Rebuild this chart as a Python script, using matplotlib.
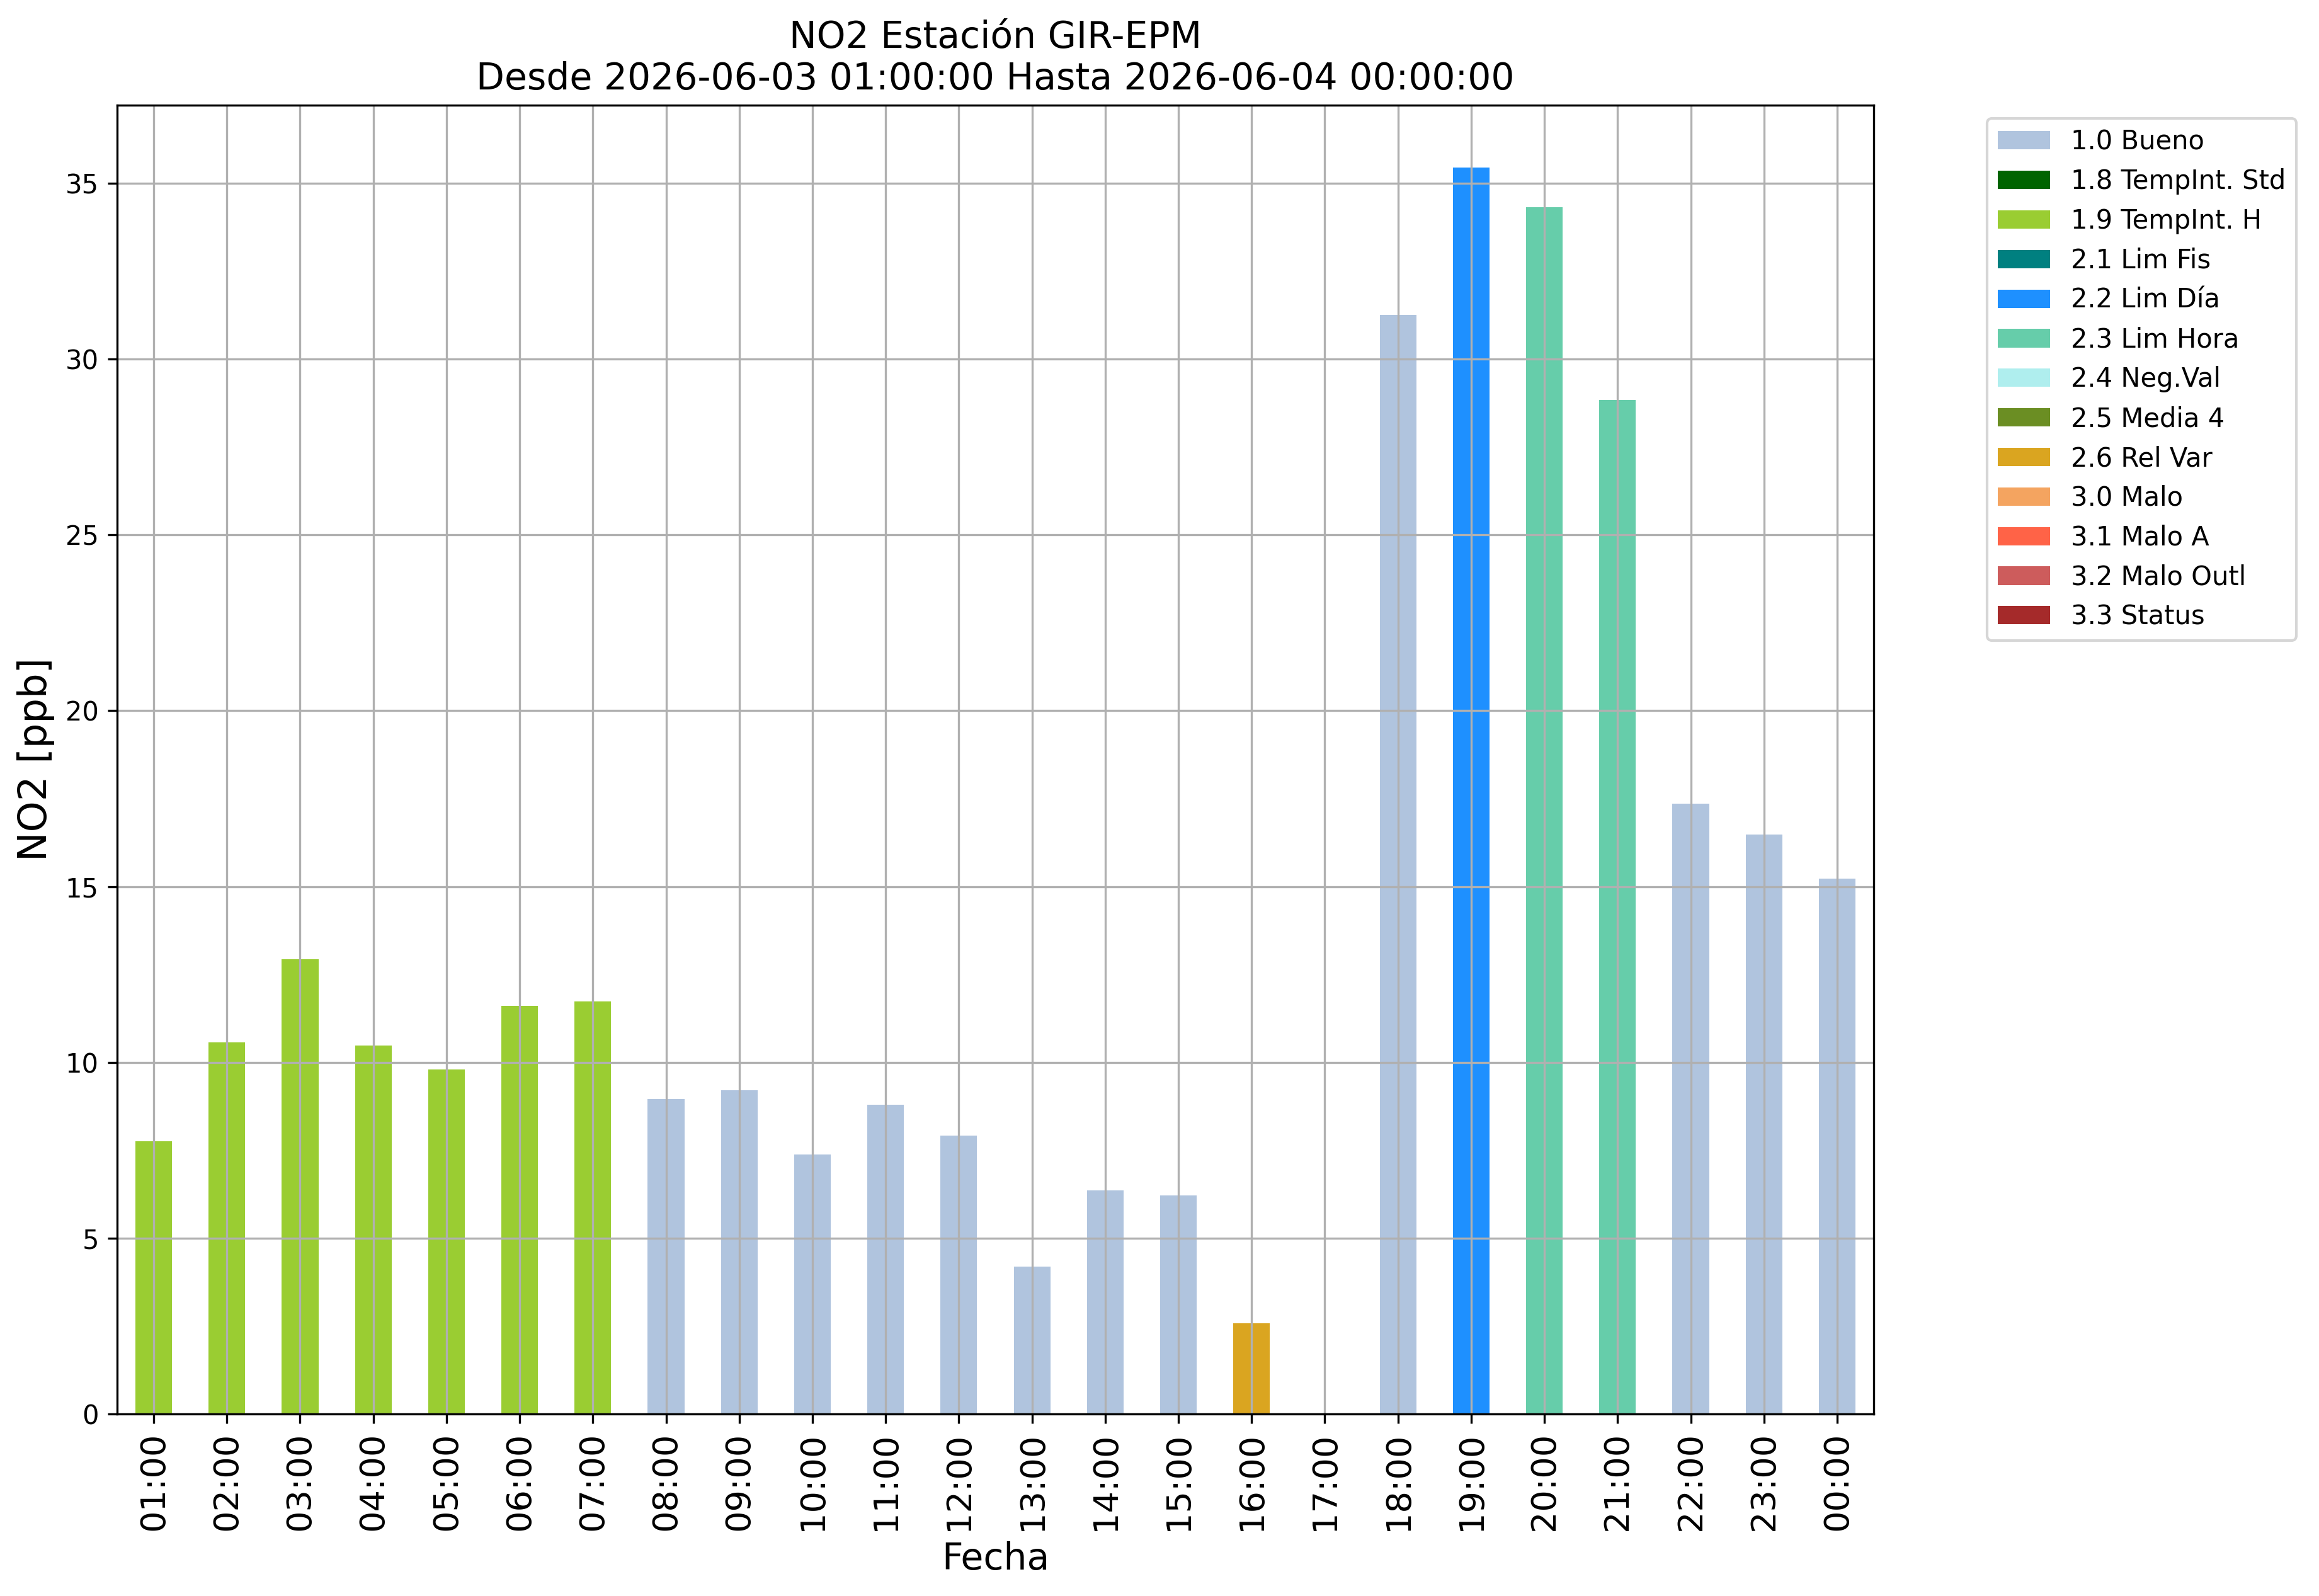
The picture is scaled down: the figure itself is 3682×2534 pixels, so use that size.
import numpy as np
import matplotlib
matplotlib.use('Agg')
import matplotlib.pyplot as plt
from matplotlib.patches import Patch

# Hourly NO2 values (ppb) and their quality flag
hours = ["01:00", "02:00", "03:00", "04:00", "05:00", "06:00", "07:00", "08:00",
         "09:00", "10:00", "11:00", "12:00", "13:00", "14:00", "15:00", "16:00",
         "17:00", "18:00", "19:00", "20:00", "21:00", "22:00", "23:00", "00:00"]
no2 = [7.75, 10.57, 12.94, 10.47, 9.79, 11.60, 11.73, 8.95,
       9.20, 7.38, 8.79, 7.91, 4.19, 6.35, 6.21, 2.58,
       np.nan, 31.25, 35.45, 34.32, 28.84, 17.36, 16.47, 15.22]
flags = ["1.9", "1.9", "1.9", "1.9", "1.9", "1.9", "1.9", "1.0",
         "1.0", "1.0", "1.0", "1.0", "1.0", "1.0", "1.0", "2.6",
         None, "1.0", "2.2", "2.3", "2.3", "1.0", "1.0", "1.0"]

# Flag legend (code, label, colour)
flag_codes = ["1.0", "1.8", "1.9", "2.1", "2.2", "2.3", "2.4", "2.5", "2.6", "3.0", "3.1", "3.2", "3.3"]
flag_labels = ["1.0 Bueno", "1.8 TempInt. Std", "1.9 TempInt. H", "2.1 Lim Fis", "2.2 Lim Día",
               "2.3 Lim Hora", "2.4 Neg.Val", "2.5 Media 4", "2.6 Rel Var", "3.0 Malo",
               "3.1 Malo A", "3.2 Malo Outl", "3.3 Status"]
flag_colors = ["lightsteelblue", "darkgreen", "yellowgreen", "teal", "dodgerblue",
               "mediumaquamarine", "paleturquoise", "olivedrab", "goldenrod", "sandybrown",
               "tomato", "indianred", "brown"]
color_of = dict(zip(flag_codes, flag_colors))

fig = plt.figure(figsize=(3682 / 300, 2534 / 300), dpi=300)
ax = fig.add_axes([0.0505, 0.1141, 0.7575, 0.8200])

x = np.arange(len(hours))
for xi, val, fl in zip(x, no2, flags):
    if fl is None or np.isnan(val):
        continue
    ax.bar(xi, val, width=0.5, color=color_of[fl])

ax.set_xlim(-0.5, len(hours) - 0.5)
ax.set_ylim(0, np.nanmax(no2) * 1.05)
ax.set_xticks(x)
ax.set_xticklabels(hours, rotation=90, fontsize=13)
ax.tick_params(axis='y', labelsize=10)
ax.grid(True)

ax.set_title("NO2 Estación GIR-EPM\nDesde 2026-06-03 01:00:00 Hasta 2026-06-04 00:00:00", fontsize=14)
ax.set_xlabel("Fecha", fontsize=14)
ax.set_ylabel("NO2 [ppb]", fontsize=15)

handles = [Patch(facecolor=c, label=l) for c, l in zip(flag_colors, flag_labels)]
ax.legend(handles=handles, loc='upper left', bbox_to_anchor=(1.057, 1), fontsize=10)

fig.savefig("out.png", dpi=300)
